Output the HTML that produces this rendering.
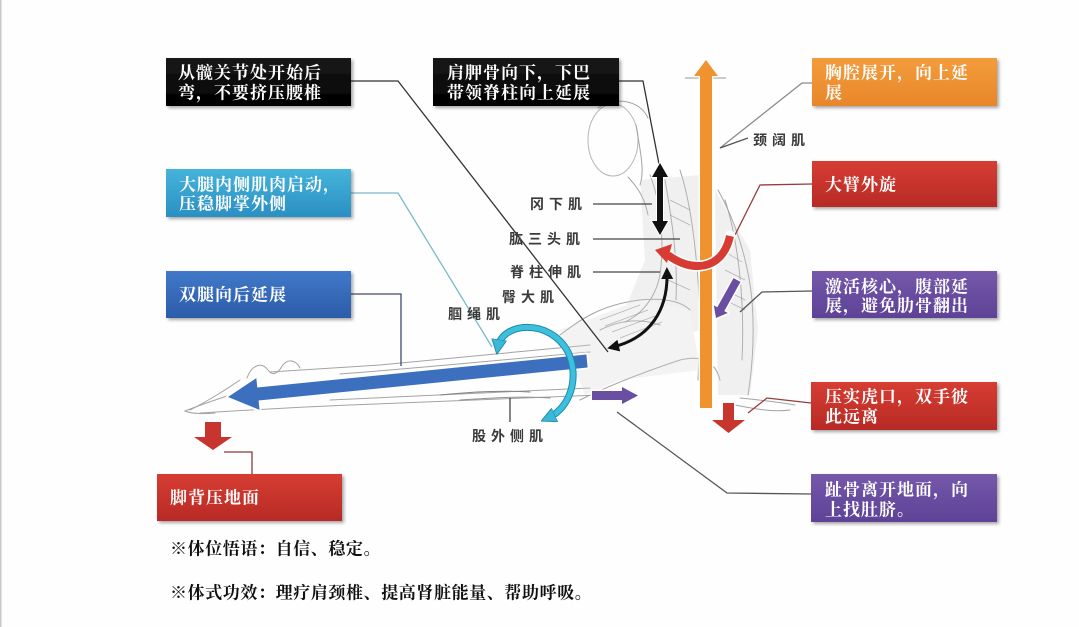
<!DOCTYPE html>
<html><head><meta charset="utf-8">
<style>
html,body{margin:0;padding:0;background:#fefefe;}
body{width:1079px;height:627px;overflow:hidden;position:relative;}
svg{position:absolute;left:0;top:0;}
.bt{font-family:"Liberation Serif","Noto Serif CJK SC",serif;font-size:17px;font-weight:bold;fill:#fff;letter-spacing:1px;dominant-baseline:central;}
.ml{font-family:"Liberation Sans","Noto Sans CJK SC",sans-serif;font-size:14px;font-weight:bold;fill:#3a3a3a;letter-spacing:5px;dominant-baseline:central;}
.ft{font-family:"Liberation Serif","Noto Serif CJK SC",serif;font-size:17px;font-weight:bold;fill:#111;letter-spacing:0.6px;dominant-baseline:central;}
</style></head>
<body>
<svg width="1079" height="627" viewBox="0 0 1079 627" xmlns="http://www.w3.org/2000/svg">
<defs>
<filter id="sh" x="-10%" y="-20%" width="130%" height="160%"><feDropShadow dx="2" dy="2" stdDeviation="1.5" flood-color="#000" flood-opacity="0.35"/></filter>
<linearGradient id="gBlack" x1="0" y1="0" x2="0" y2="1"><stop offset="0" stop-color="#1a1a1a"/><stop offset="1" stop-color="#000"/></linearGradient>
<linearGradient id="gCyan" x1="0" y1="0" x2="0" y2="1"><stop offset="0" stop-color="#46b3da"/><stop offset="1" stop-color="#2a8fc2"/></linearGradient>
<linearGradient id="gBlue" x1="0" y1="0" x2="0" y2="1"><stop offset="0" stop-color="#4079c9"/><stop offset="1" stop-color="#2c5ca8"/></linearGradient>
<linearGradient id="gOrange" x1="0" y1="0" x2="0" y2="1"><stop offset="0" stop-color="#f39c3c"/><stop offset="1" stop-color="#e8862a"/></linearGradient>
<linearGradient id="gRed" x1="0" y1="0" x2="0" y2="1"><stop offset="0" stop-color="#d63d33"/><stop offset="1" stop-color="#b72a25"/></linearGradient>
<linearGradient id="gPurple" x1="0" y1="0" x2="0" y2="1"><stop offset="0" stop-color="#7558aa"/><stop offset="1" stop-color="#5d4296"/></linearGradient>
<marker id="ahB" viewBox="0 0 10 10" refX="5" refY="5" markerWidth="4" markerHeight="4" orient="auto-start-reverse"><path d="M0,0 L10,5 L0,10 z" fill="#111"/></marker>
<marker id="ahC" viewBox="0 0 10 10" refX="5" refY="5" markerWidth="3" markerHeight="3" orient="auto-start-reverse"><path d="M0,0 L10,5 L0,10 z" fill="#3cb7d6" stroke="#1d8aa8" stroke-width="0.6"/></marker>
</defs>

<rect x="0" y="0" width="1.5" height="627" fill="#c8c8c8"/>

<!-- figure sketch -->
<g fill="none" stroke="#9a9a9a" stroke-width="1" stroke-linecap="round" opacity="0.9">
  <ellipse cx="613" cy="140" rx="25" ry="36" stroke="#b0b0b0"/>
  <path d="M598,108 C615,96 640,100 648,118" />
  <path d="M636,125 C640,150 645,170 640,185" />
  <path d="M628,177 C640,190 645,200 648,215" />
  <path d="M650,175 C660,200 665,240 660,275 C655,300 640,315 625,322"/>
  <path d="M680,170 C690,200 695,240 698,280 C700,310 700,340 698,380"/>
  <path d="M665,180 C672,220 678,260 676,300"/>
  <path d="M718,190 C735,220 748,260 752,300 C755,340 752,370 748,395"/>
  <path d="M725,200 C738,240 745,300 742,360"/>
  <path d="M740,398 C760,400 780,402 795,405"/>
  <path d="M735,405 C760,410 775,412 790,410"/>
  <path d="M560,335 C580,320 600,305 640,300 C660,298 680,300 690,310"/>
  <path d="M600,330 C620,320 640,318 660,325"/>
  <path d="M580,400 C610,385 650,370 680,360 C700,355 715,360 720,380"/>
  <path d="M590,345 C520,352 450,358 380,365 C330,368 300,370 270,372"/>
  <path d="M590,352 C500,360 420,368 340,374"/>
  <path d="M600,395 C520,398 430,402 350,405 C300,407 250,410 200,413"/>
  <path d="M590,388 C500,392 420,396 330,400"/>
  <path d="M247,378 C252,364 262,362 268,370 C272,376 278,374 282,366 C288,358 296,360 300,368"/>
  <path d="M230,395 C215,400 200,405 185,411 C192,414 205,414 215,413"/>
  <path d="M240,380 C225,390 210,400 190,410"/>
  <path d="M440,395 C470,392 500,390 530,392" stroke="#777"/>
  <path d="M460,400 C490,398 520,396 550,398" stroke="#888"/>
</g>
<g opacity="0.28">
  <path d="M640,180 L700,175 L702,330 L650,340 L620,322 L645,260 Z" fill="#cfcfcf"/>
  <path d="M715,190 L750,250 L758,330 L750,395 L718,395 Z" fill="#cfcfcf"/>
  <path d="M560,330 L640,300 L690,310 L700,370 L620,380 L585,395 Z" fill="#d8d8d8"/>
</g>
<g stroke="#888" stroke-width="0.7" opacity="0.6">
  <line x1="600" y1="320" x2="640" y2="305"/><line x1="605" y1="326" x2="648" y2="310"/>
  <line x1="612" y1="332" x2="655" y2="316"/><line x1="620" y1="338" x2="662" y2="322"/>
  <line x1="725" y1="290" x2="745" y2="300"/><line x1="725" y1="300" x2="745" y2="310"/>
  <line x1="725" y1="270" x2="745" y2="280"/><line x1="722" y1="250" x2="742" y2="262"/>
  <line x1="670" y1="200" x2="690" y2="210"/><line x1="670" y1="215" x2="690" y2="225"/>
  <line x1="668" y1="260" x2="690" y2="270"/><line x1="668" y1="280" x2="690" y2="290"/>
</g>

<!-- connector lines -->
<g fill="none" stroke-width="1.3">
  <polyline points="351,81 398,81 608,352" stroke="#333"/>
  <polyline points="619,81 643,81 659,164" stroke="#333"/>
  <polyline points="351,193 398,193 492,347" stroke="#7bb9cc"/>
  <polyline points="351,294 401,294 401,366" stroke="#3e4a70"/>
  <polyline points="812,83 802,83 720,148" stroke="#8a8a8a"/>
  <polyline points="748,138 720,148" stroke="#555"/>
  <polyline points="812,184 760,185 735,235" stroke="#9a3a3a"/>
  <polyline points="812,291 762,292 740,312" stroke="#555"/>
  <polyline points="811,403 767,398 748,413" stroke="#9a3a3a"/>
  <polyline points="811,494 727,493 617,412" stroke="#555"/>
  <polyline points="252,474 252,452 224,452" stroke="#8a3a3a"/>
  <line x1="593" y1="204" x2="652" y2="204" stroke="#444"/>
  <line x1="593" y1="239" x2="680" y2="239" stroke="#444"/>
  <line x1="593" y1="272" x2="660" y2="272" stroke="#444"/>
  <line x1="510" y1="398" x2="510" y2="422" stroke="#444"/>
  <line x1="685" y1="78" x2="726" y2="78" stroke="#aaa"/>
</g>

<!-- arrows -->
<polygon points="586.4,354.5 257.3,387.5 256.3,378.1 228,397 259.5,409.9 258.6,400.5 587.6,367.5" fill="#3c70bf" stroke="#fff" stroke-width="4" paint-order="stroke" stroke-linejoin="round"/>
<polygon points="700,408 700,76 694,76 706,60 718,76 712,76 712,408" fill="#f0922e" stroke="#fff" stroke-width="3" paint-order="stroke" stroke-linejoin="round"/>
<polygon points="660,163 668,177 663,177 663,221 668,221 660,235 652,221 657,221 657,177 652,177" fill="#111" stroke="#fff" stroke-width="2" paint-order="stroke"/>
<path d="M667,273 C668,310 650,338 613,347" fill="none" stroke="#111" stroke-width="3" marker-start="url(#ahB)" marker-end="url(#ahB)"/>
<path d="M668,255 C690,272 722,272 730,236" fill="none" stroke="#fff" stroke-width="11" stroke-linecap="round"/>
<path d="M668,255 C690,272 722,272 730,236" fill="none" stroke="#d63c34" stroke-width="8"/>
<polygon points="655,250 672,244 667,263" fill="#d63c34"/>
<polygon points="733.5,278.1 740.5,281.9 724.3,311.1 727.8,313 716,318 713.8,305.4 717.3,307.3" fill="#6a4ea2" stroke="#fff" stroke-width="3" paint-order="stroke" stroke-linejoin="round"/>
<polygon points="592,391 622,391 622,387 638,395.5 622,404 622,400 592,400" fill="#6a4ea2" stroke="#fff" stroke-width="3" paint-order="stroke" stroke-linejoin="round"/>
<polygon points="723,403 734,403 734,420 745,420 728.5,433 712,420 723,420" fill="#c8342e" stroke="#fff" stroke-width="3" paint-order="stroke" stroke-linejoin="round"/>
<polygon points="205,422 221,422 221,437 232,437 213,450 194,437 205,437" fill="#c8342e" stroke="#fff" stroke-width="3" paint-order="stroke" stroke-linejoin="round"/>
<path d="M498,347 C502,322 550,318 568,352 C580,378 570,408 548,418" fill="none" stroke="#1e8aa8" stroke-width="7"/>
<path d="M498,347 C502,322 550,318 568,352 C580,378 570,408 548,418" fill="none" stroke="#3cc0de" stroke-width="5" marker-start="url(#ahC)" marker-end="url(#ahC)"/>

<!-- boxes -->
<g filter="url(#sh)">
  <rect x="166" y="58" width="185" height="48" fill="url(#gBlack)"/>
  <rect x="433" y="58" width="186" height="48" fill="url(#gBlack)"/>
  <rect x="166" y="169" width="185" height="48" fill="url(#gCyan)"/>
  <rect x="166" y="271" width="185" height="47" fill="url(#gBlue)"/>
  <rect x="812" y="58" width="185" height="48" fill="url(#gOrange)"/>
  <rect x="812" y="161" width="185" height="46" fill="url(#gRed)"/>
  <rect x="812" y="271" width="185" height="47" fill="url(#gPurple)"/>
  <rect x="811" y="382" width="186" height="48" fill="url(#gRed)"/>
  <rect x="811" y="474" width="186" height="48" fill="url(#gPurple)"/>
  <rect x="157" y="474" width="185" height="47" fill="url(#gRed)"/>
</g>

<text class="bt" x="178" y="73">从髋关节处开始后</text>
<text class="bt" x="178" y="93">弯，不要挤压腰椎</text>
<text class="bt" x="447" y="73">肩胛骨向下，下巴</text>
<text class="bt" x="447" y="93">带领脊柱向上延展</text>
<text class="bt" x="179" y="185">大腿内侧肌肉启动，</text>
<text class="bt" x="179" y="204">压稳脚掌外侧</text>
<text class="bt" x="179" y="295">双腿向后延展</text>
<text class="bt" x="825" y="73">胸腔展开，向上延</text>
<text class="bt" x="825" y="93">展</text>
<text class="bt" x="825" y="185">大臂外旋</text>
<text class="bt" x="825" y="287">激活核心，腹部延</text>
<text class="bt" x="825" y="306">展，避免肋骨翻出</text>
<text class="bt" x="825" y="397">压实虎口，双手彼</text>
<text class="bt" x="825" y="417">此远离</text>
<text class="bt" x="825" y="490">趾骨离开地面，向</text>
<text class="bt" x="825" y="510">上找肚脐。</text>
<text class="bt" x="170" y="498">脚背压地面</text>

<text class="ml" x="530" y="204">冈下肌</text>
<text class="ml" x="509" y="239">肱三头肌</text>
<text class="ml" x="510" y="272">脊柱伸肌</text>
<text class="ml" x="502" y="297">臀大肌</text>
<text class="ml" x="448" y="314">腘绳肌</text>
<text class="ml" x="472" y="436">股外侧肌</text>
<text class="ml" x="753" y="140">颈阔肌</text>

<text class="ft" x="170" y="549">※体位悟语：自信、稳定。</text>
<text class="ft" x="170" y="593">※体式功效：理疗肩颈椎、提高肾脏能量、帮助呼吸。</text>
</svg>
</body></html>
